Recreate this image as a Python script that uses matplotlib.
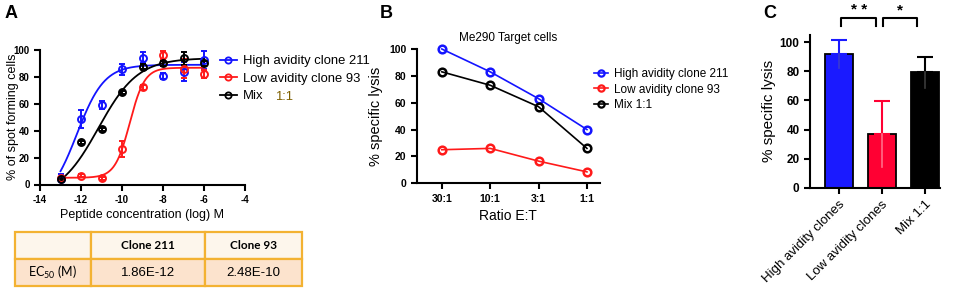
import numpy as np
import matplotlib.pyplot as plt
from matplotlib.lines import Line2D

plt.rcParams['font.family'] = ['Liberation Sans', 'DejaVu Sans']
plt.rcParams['mathtext.default'] = 'regular'
plt.rcParams['axes.unicode_minus'] = False

# ---- panel A data ----
logconc = [-13, -12, -11, -10, -9, -8, -7, -6]
high_a = [3.9, 48.7, 59.0, 85.6, 94.3, 80.7, 83.9, 92.6]
high_a_err = [4, 7, 3, 4, 4, 2, 7, 7]
low_a = [4.6, 6.5, 4.6, 26.2, 72.3, 96.3, 86.0, 82.0]
low_a_err = [1, 1, 1, 6, 2, 3, 7, 3]
mix_a = [4.0, 31.4, 41.0, 68.5, 87.6, 90.0, 93.8, 90.0]
mix_a_err = [1, 1, 1, 1, 2, 2, 5, 2]
# fitted 4PL parameters (bottom, top, logEC50, hill)
fit_high = (-14, 89, -12.2, 0.65)
fit_low = (5, 86.8, -9.62, 1.2)
fit_mix = (-10, 94, -11.15, 0.45)

# ---- panel B data ----
ratios = ['30:1', '10:1', '3:1', '1:1']
high_b = [100, 83, 63, 40]
low_b = [25, 26, 16.5, 8.5]
mix_b = [83, 73, 57, 26]

# ---- panel C data ----
groups = ['High avidity clones', 'Low avidity clones', 'Mix 1:1']
lysis_c = [92, 37, 79.3]
lysis_c_err = [9.5, 22.5, 10.7]

# ---- table ----
tbl_cols = ['', 'Clone 211', 'Clone 93']
tbl_row = ['EC$_{50}$ (M)', '1.86E-12', '2.48E-10']

BLUE = '#1414ff'
RED = '#ff1a1a'
BLACK = '#000000'

W, H = 957, 289
fig = plt.figure(figsize=(W / 100, H / 100), dpi=100)


def px(l, t, r, b):
    return [l / W, 1 - b / H, (r - l) / W, (b - t) / H]


def style(ax, lw=1.5, size=7):
    for s in ['top', 'right']:
        ax.spines[s].set_visible(False)
    for s in ['left', 'bottom']:
        ax.spines[s].set_linewidth(lw)
    ax.tick_params(width=lw, length=4, labelsize=size)
    for lab in ax.get_xticklabels() + ax.get_yticklabels():
        lab.set_fontweight('bold')


def fourpl(x, p):
    b, t, ec, h = p
    return b + (t - b) / (1 + 10 ** ((ec - x) * h))


# ---------- A ----------
axA = fig.add_axes(px(40, 50, 245, 184.5))
xs = np.linspace(-13, -6, 300)
for y, e, p, c in [(high_a, high_a_err, fit_high, BLUE),
                   (low_a, low_a_err, fit_low, RED),
                   (mix_a, mix_a_err, fit_mix, BLACK)]:
    axA.plot(xs, fourpl(xs, p), color=c, lw=1.3, clip_on=False)
    axA.errorbar(logconc, y, yerr=e, fmt='o', mfc='none', mec=c, ms=5,
                 mew=1.4, ecolor=c, elinewidth=1.4, capsize=2.5, capthick=1.4,
                 clip_on=False)
axA.set_xlim(-14, -4)
axA.set_ylim(0, 100)
axA.set_xticks(range(-14, -3, 2))
axA.set_yticks(range(0, 101, 20))
style(axA)
axA.set_xlabel('Peptide concentration (log) M', fontsize=9, labelpad=3)
axA.set_ylabel('% of spot forming cells', fontsize=9)
axA.yaxis.set_label_coords(-0.1, 0.5)

hA = [Line2D([], [], color=c, marker='o', mfc='none', ms=4.5, mew=1.3, lw=1.3)
      for c in (BLUE, RED, BLACK)]
fig.legend(hA, ['High avidity clone 211', 'Low avidity clone 93', 'Mix'],
           loc='upper left', bbox_to_anchor=(220 / W, 1 - 55 / H),
           frameon=False, fontsize=9.4, handlelength=1.3, handletextpad=0.45,
           labelspacing=0.42, borderpad=0, borderaxespad=0)
fig.text(275 / W, 1 - 97 / H, '1:1', color='#7f6000', fontsize=9.4, va='center')
fig.text(5 / W, 1 - 13 / H, 'A', fontsize=13, fontweight='bold', va='center')

# ---------- table ----------
axT = fig.add_axes(px(15, 232.3, 301.7, 286))
axT.axis('off')
t = axT.table(cellText=[tbl_cols, tbl_row], colWidths=[76, 114, 96.7],
              bbox=[0, 0, 1, 1], cellLoc='center',
              cellColours=[['#fdf6ec'] * 3, ['#fce3cd'] * 3])
t.auto_set_font_size(False)
for (r, c), cell in t.get_celld().items():
    cell.set_edgecolor('#f3b232')
    cell.set_linewidth(1.6)
    if r == 0:
        cell.set_text_props(fontsize=8.5, fontweight='bold', family='Lato')
    elif c == 0:
        cell.set_text_props(fontsize=9, family='Lato')
    else:
        cell.set_text_props(fontsize=9.5)

# ---------- B ----------
axB = fig.add_axes(px(416.7, 49, 600, 183.3))
xb = np.arange(len(ratios))
for y, c in [(high_b, BLUE), (low_b, RED), (mix_b, BLACK)]:
    axB.plot(xb, y, color=c, lw=1.2, marker='o', mfc='none', mec=c, ms=5.5,
             mew=1.8, clip_on=False)
axB.set_xlim(-0.52, 3.27)
axB.set_ylim(0, 100)
axB.set_xticks(xb, ratios)
axB.set_yticks(range(0, 101, 20))
style(axB, size=7.5)
axB.set_xlabel('Ratio E:T', fontsize=10, labelpad=4)
axB.set_ylabel('% specific lysis', fontsize=10.5, labelpad=4)
axB.set_title('Me290 Target cells', fontsize=8.5, pad=6)
hB = [Line2D([], [], color=c, marker='o', mfc='none', ms=4.5, mew=1.6, lw=1.2)
      for c in (BLUE, RED, BLACK)]
fig.legend(hB, ['High avidity clone 211', 'Low avidity clone 93', 'Mix 1:1'],
           loc='upper left', bbox_to_anchor=(594 / W, 1 - 68 / H),
           frameon=False, fontsize=8.5, handlelength=1.2, handletextpad=0.5,
           labelspacing=0.3, borderpad=0, borderaxespad=0)
fig.text(380 / W, 1 - 13 / H, 'B', fontsize=13, fontweight='bold', va='center')

# ---------- C ----------
axC = fig.add_axes(px(810, 35, 940, 187.7))
xc = np.arange(len(groups))
bar_cols = ['#1a1aff', '#ff0033', '#000000']
low_cols = ['#3a3ad0', '#ff6d88', '#3a3a3a']
axC.bar(xc, lysis_c, width=0.65, color=bar_cols, edgecolor='black', lw=1.3)
for i in range(len(groups)):
    axC.errorbar(xc[i], lysis_c[i], yerr=[[0], [lysis_c_err[i]]], fmt='none',
                 ecolor=bar_cols[i], elinewidth=1.5, capsize=6, capthick=1.5)
    axC.plot([xc[i], xc[i]], [lysis_c[i] - lysis_c_err[i], lysis_c[i]],
             color=low_cols[i], lw=1.2)
axC.set_xlim(-0.67, 2.35)
axC.set_ylim(0, 105)
axC.set_yticks(range(0, 101, 20))
axC.set_xticks(xc, groups, rotation=45, ha='right', rotation_mode='anchor')
style(axC, size=8.5)
axC.tick_params(axis='x', labelsize=9.5)
for lab in axC.get_xticklabels():
    lab.set_fontweight('normal')
axC.set_ylabel('% specific lysis', fontsize=11, labelpad=3)
# significance brackets
for (x0, x1), star in [((0.05, 0.87), '* *'), ((1.02, 1.82), '*')]:
    axC.plot([x0, x0, x1, x1], [111.5, 116.8, 116.8, 111.5], color='black',
             lw=1.5, clip_on=False)
    axC.text((x0 + x1) / 2, 122, star, ha='center', va='center',
             fontsize=11, fontweight='bold')
fig.text(763 / W, 1 - 13 / H, 'C', fontsize=13, fontweight='bold', va='center')

fig.savefig('out.png', dpi=100)
